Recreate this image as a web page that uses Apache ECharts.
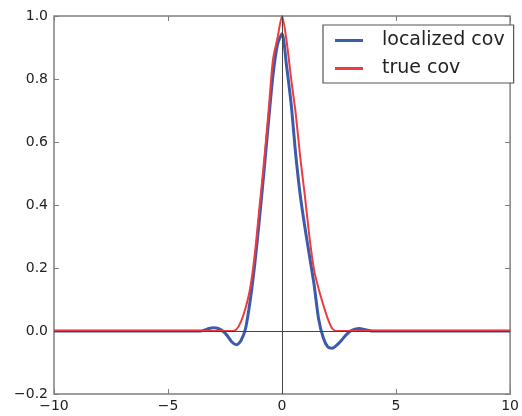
<!DOCTYPE html>
<html>
<head>
<meta charset="utf-8">
<script src="https://cdn.jsdelivr.net/npm/echarts@6/dist/echarts.min.js"></script>
<style>
html,body{margin:0;padding:0;background:#fff;}
#chart-panel{width:522px;height:416px;}
</style>
</head>
<body>
<div id="chart-panel"></div>
<script>
// values
var xs = [-10, -3.6, -3.4, -3.2, -3.0, -2.8, -2.6, -2.4, -2.2, -2.0, -1.8, -1.6, -1.4, -1.2, -1.0, -0.8, -0.6, -0.4, -0.2, 0,
          0.2, 0.4, 0.6, 0.8, 1.0, 1.2, 1.4, 1.6, 1.8, 2.0, 2.2, 2.4, 2.6, 2.8, 3.0, 3.2, 3.4, 3.6, 3.8, 4.0, 10];
var localizedCov = [0, 0, 0.003, 0.008, 0.01, 0.008, 0.0, -0.015, -0.035, -0.044, -0.03, 0.008, 0.095, 0.21, 0.35, 0.50, 0.66, 0.81, 0.91, 0.944,
          0.84, 0.72, 0.56, 0.43, 0.33, 0.24, 0.15, 0.04, -0.02, -0.05, -0.055, -0.045, -0.03, -0.013, 0.0, 0.006, 0.008, 0.005, 0.002, 0, 0];
var trueCov = [0, 0, 0, 0, 0, 0, 0, 0, 0, 0.005, 0.03, 0.073, 0.135, 0.24, 0.385, 0.53, 0.69, 0.86, 0.93, 1.0,
          0.92, 0.80, 0.69, 0.55, 0.43, 0.30, 0.195, 0.135, 0.085, 0.04, 0.008, 0, 0, 0, 0, 0, 0, 0, 0, 0, 0];
var xTicks = [-10, 10, 5];     // min, max, step
var yTicks = [-0.2, 1.0, 0.2];
var names = ['localized cov', 'true cov'];

function pairs(ys){
    return xs.map(function(x, i){ return [x, ys[i]]; });
}
function fmtX(v){ return (v < 0 ? '\u2212' : '') + Math.abs(v); }
function fmtY(v){ return (v < 0 ? '\u2212' : '') + Math.abs(v).toFixed(1); }

var frame = '#7f7f7f';
var tickFont = {color:'#222', fontSize:14, fontFamily:'DejaVu Sans'};

function xAxisOpt(pos, showLabel){
    return {
        type:'value', position:pos, min:xTicks[0], max:xTicks[1], interval:xTicks[2],
        axisLine:{show:false, onZero:false}, splitLine:{show:false},
        axisTick:{show:true, inside:true, length:5, lineStyle:{color:frame}},
        axisLabel:Object.assign({show:showLabel, margin:5, formatter:fmtX}, tickFont)
    };
}
function yAxisOpt(pos, showLabel){
    return {
        type:'value', position:pos, min:yTicks[0], max:yTicks[1], interval:yTicks[2],
        axisLine:{show:false, onZero:false}, splitLine:{show:false},
        axisTick:{show:true, inside:true, length:5, lineStyle:{color:frame}},
        axisLabel:Object.assign({show:showLabel, margin:6, formatter:fmtY}, tickFont)
    };
}

var opt = {
    backgroundColor:'#fff',
    animation:false,
    grid:{left:54, right:1, top:16, bottom:22, show:true, borderColor:frame, borderWidth:1.5, backgroundColor:'transparent'},
    xAxis:[xAxisOpt('bottom', true), xAxisOpt('top', false)],
    yAxis:[yAxisOpt('left', true), yAxisOpt('right', false)],
    legend:{
        left:323, top:25, orient:'vertical',
        padding:[6, 9, 5, 12], itemGap:9,
        itemWidth:28, itemHeight:3,
        borderColor:'#555', borderWidth:1.2, backgroundColor:'#fff',
        textStyle:{color:'#222', fontSize:19, fontFamily:'DejaVu Sans', padding:[0, 0, 0, 14]},
        data:[{name:names[0], icon:'rect'}, {name:names[1], icon:'rect'}]
    },
    series:[
        {
            name:'zero', type:'line', data:[], silent:true, z:1,
            markLine:{
                silent:true, symbol:'none', label:{show:false},
                lineStyle:{color:'#444', width:1, type:'solid'},
                data:[{xAxis:0}, {yAxis:0}]
            }
        },
        {
            name:names[0], type:'line', data:pairs(localizedCov), showSymbol:false, symbol:'none',
            smooth:0.25, z:2,
            color:'#3b5bab', lineStyle:{color:'#3b5bab', width:3}
        },
        {
            name:names[1], type:'line', data:pairs(trueCov), showSymbol:false, symbol:'none',
            smooth:0.25, z:3,
            color:'#ee3b40', lineStyle:{color:'#ee3b40', width:2}
        }
    ]
};

var chart = echarts.init(document.getElementById('chart-panel'));
chart.setOption(opt);
</script>
</body>
</html>
